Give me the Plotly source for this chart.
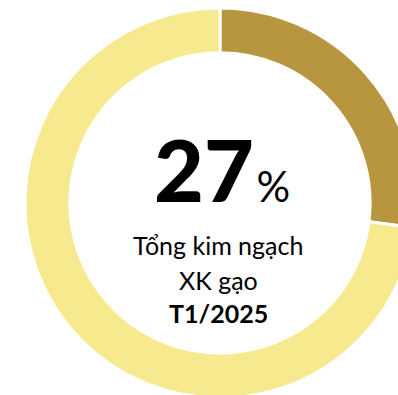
import plotly.graph_objects as go

# Share of January 2025 rice export turnover
labels = ["T1/2025", "Còn lại"]
values = [27, 73]
colors = ["#B8963F", "#F7E98D"]

headline = "27"
caption_lines = ["Tổng kim ngạch", "XK gạo"]
period = "T1/2025"

W, H = 440, 406
ML, MR, MT, MB = 25, 25, 8, 8
PW, PH = W - ML - MR, H - MT - MB


def px(x, y):
    """Pixel position on the canvas -> paper coordinates."""
    return (x - ML) / PW, 1 - (y - MT) / PH


fig = go.Figure(
    go.Pie(
        labels=labels,
        values=values,
        hole=0.77,
        sort=False,
        direction="clockwise",
        rotation=0,
        marker=dict(colors=colors, line=dict(color="white", width=3)),
        textinfo="none",
        hoverinfo="skip",
        showlegend=False,
    )
)

font = "Lato, 'Open Sans', sans-serif"
ann = []
x0, y0 = px(222, 168)
ann.append(dict(
    x=x0, y=y0, xref="paper", yref="paper", xanchor="center", yanchor="middle",
    text=f"<span style='font-weight:900'>{headline}</span><span style='font-size:42px'>\u200a%</span>",
    showarrow=False, font=dict(family=font, size=86, color="black"),
))
for text, ypx, bold in [(caption_lines[0], 245, False),
                        (caption_lines[1], 280, False),
                        (period, 313, True)]:
    xa, ya = px(218, ypx)
    ann.append(dict(
        x=xa, y=ya, xref="paper", yref="paper", xanchor="center", yanchor="middle",
        text=f"<b>{text}</b>" if bold else text,
        showarrow=False, font=dict(family=font, size=25, color="black"),
    ))

fig.update_layout(
    width=W, height=H,
    margin=dict(l=ML, r=MR, t=MT, b=MB),
    paper_bgcolor="white", plot_bgcolor="white",
    annotations=ann,
)

fig.write_html("out.html")
